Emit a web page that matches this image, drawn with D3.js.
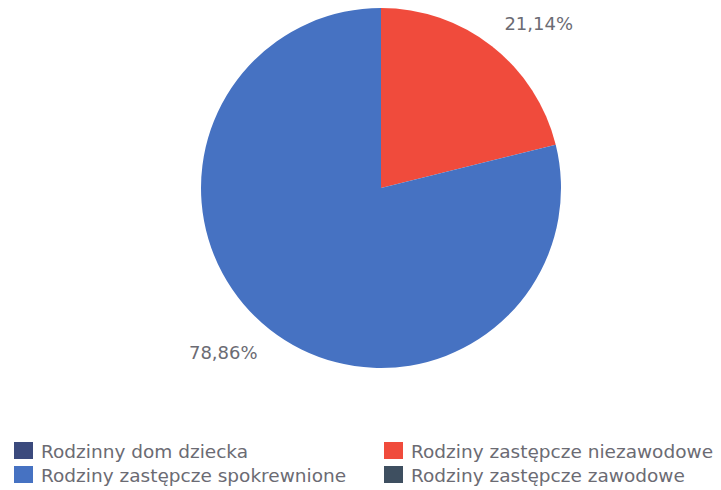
<!DOCTYPE html>
<html>
<head>
<meta charset="UTF-8">
<script src="https://d3js.org/d3.v7.min.js"></script>
<style>
    body { margin: 0; background: #fff; }
    text { font-family: "DejaVu Sans", "Liberation Sans", Arial, sans-serif; fill: #6b6b73; }
</style>
</head>
<body>
<div id="chart"></div>
<script>
    const width = 721, height = 490;

    // dane
    const categories = ["Rodzinny dom dziecka", "Rodziny zastępcze niezawodowe", "Rodziny zastępcze spokrewnione", "Rodziny zastępcze zawodowe"];
    const values = [0, 21.14, 78.86, 0];
    const colors = ["#3b4a7d", "#f04b3c", "#4672c2", "#3e4f60"];
    const labels = ["0,00%", "21,14%", "78,86%", "0,00%"];
    // kolejność w legendzie
    const legendOrder = [0, 1, 2, 3];

    const svg = d3.select("#chart").append("svg")
        .attr("width", width)
        .attr("height", height);

    const cx = 381, cy = 188, radius = 180;
    const g = svg.append("g").attr("transform", `translate(${cx},${cy})`);

    const pie = d3.pie().sort(null).value(d => d.value);
    const data = categories.map((c, i) => ({ name: c, value: values[i], color: colors[i], label: labels[i] }));
    const arcs = pie(data);

    const arc = d3.arc().innerRadius(0).outerRadius(radius);

    g.selectAll("path")
        .data(arcs.filter(d => d.data.value > 0))
        .join("path")
        .attr("d", arc)
        .attr("fill", d => d.data.color);

    // etykiety procentowe
    const labelR = 228;
    g.selectAll("text.lbl")
        .data(arcs.filter(d => d.data.value > 0))
        .join("text")
        .attr("class", "lbl")
        .attr("x", d => labelR * Math.sin((d.startAngle + d.endAngle) / 2 + 0.1))
        .attr("y", d => -labelR * Math.cos((d.startAngle + d.endAngle) / 2 + 0.1))
        .attr("dy", "0.35em")
        .attr("text-anchor", "middle")
        .style("font-size", "18px")
        .text(d => d.data.label);

    // legenda
    const legend = svg.append("g");
    const cols = [14, 384], rows = [442, 466];
    legendOrder.forEach((idx, k) => {
        const x = cols[k % 2], y = rows[Math.floor(k / 2)];
        const item = legend.append("g").attr("transform", `translate(${x},${y})`);
        item.append("rect")
            .attr("width", 19).attr("height", 17)
            .attr("fill", colors[idx]);
        item.append("text")
            .attr("x", 27).attr("y", 16)
            .style("font-size", "18.5px")
            .text(categories[idx]);
    });
</script>
</body>
</html>
